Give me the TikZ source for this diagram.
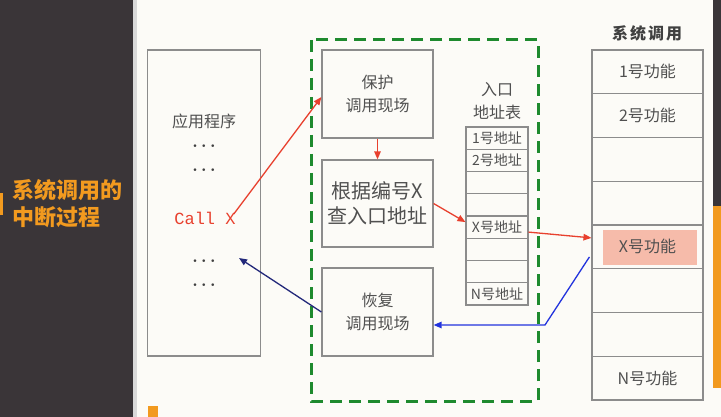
\documentclass[tikz,border=0pt]{standalone}
\usepackage{fontspec}
\newfontfamily\cjk{Noto Sans CJK SC}
\newfontfamily\mono{Liberation Mono}
\usetikzlibrary{arrows.meta}
\definecolor{bg}{HTML}{FCFBF7}
\definecolor{panel}{HTML}{3A3538}
\definecolor{orng}{HTML}{F29A1F}
\definecolor{boxline}{HTML}{8C8C8C}
\definecolor{txt}{HTML}{505050}
\definecolor{redarr}{HTML}{E8402E}
\definecolor{navy}{HTML}{22287A}
\definecolor{bluearr}{HTML}{2233DD}
\definecolor{dgreen}{HTML}{1E8A2E}
\definecolor{salmon}{HTML}{F6BBAA}
\begin{document}
\begin{tikzpicture}[x=1pt,y=-1pt,
  box/.style={draw=boxline,line width=1.2pt,inner sep=0pt,align=center,text=txt,font=\cjk\fontsize{16}{23}\selectfont},
  ecell/.style={draw=boxline,line width=1.1pt,inner sep=0pt,minimum width=62pt,minimum height=22.25pt,text=txt,font=\cjk\fontsize{14}{14}\selectfont},
  scell/.style={draw=boxline,line width=1.1pt,inner sep=0pt,minimum width=111pt,minimum height=43.75pt,text=txt,font=\cjk\fontsize{16}{16}\selectfont},
  lbl/.style={inner sep=0pt,text=txt,align=center,font=\cjk\fontsize{16}{23}\selectfont},
  dotsn/.style={inner sep=0pt,text=black!75,font=\fontsize{17}{17}\selectfont\boldmath},
  arr/.style={line width=1.3pt,-{Triangle[length=8pt,width=6.5pt]}}
]
\useasboundingbox (0,0) rectangle (721,417);
\fill[bg] (0,0) rectangle (721,417);
% left panel
\fill[panel] (0,0) rectangle (133,417);
\fill[black!15] (133,0) rectangle (137,417);
\fill[orng] (0,193) rectangle (3,215);
\node[inner sep=0pt,anchor=west,align=left,text=orng,font=\cjk\bfseries\fontsize{22}{27}\selectfont] (title) at (12,203.5) {系统调用的\\中断过程};
% right strip
\fill[panel] (713,0) rectangle (721,206);
\fill[orng] (713,206) rectangle (721,388);
% bottom orange mark
\fill[orng] (148,406) rectangle (158,417);

% application program
\node[box,minimum width=113pt,minimum height=306pt] (app) at (204,203) {};
\node[lbl] (appt) at (204,121) {应用程序};
\node[dotsn] (d1) at (204,146) {$\cdots$};
\node[dotsn] (d2) at (204,170) {$\cdots$};
\node[inner sep=0pt,text=redarr,font=\mono\fontsize{17}{17}\selectfont] (callx) at (205,218) {Call X};
\node[dotsn] (d3) at (204,261) {$\cdots$};
\node[dotsn] (d4) at (204,285) {$\cdots$};
\coordinate (ret) at (239,258);

% green dashed region
\draw[dgreen,line width=3pt,dash pattern=on 12pt off 7pt] (311,40) rectangle (538,401);

% kernel steps
\node[box,minimum width=111pt,minimum height=88pt] (bh) at (377.5,94) {保护\\调用现场};
\node[box,minimum width=111pt,minimum height=87pt,font=\cjk\fontsize{20}{25}\selectfont] (gj) at (377.5,203.5) {根据编号X\\查入口地址};
\node[box,minimum width=111pt,minimum height=88pt] (hf) at (377.5,312) {恢复\\调用现场};

% entry address table
\node[lbl] (et) at (497,101) {入口\\地址表};
\node[ecell] (e1) at (497,138.1) {1号地址};
\node[ecell] (e2) at (497,160.4) {2号地址};
\node[ecell] (e3) at (497,182.6) {};
\node[ecell] (e4) at (497,204.9) {};
\node[ecell] (e5) at (497,227.1) {X号地址};
\node[ecell] (e6) at (497,249.4) {};
\node[ecell] (e7) at (497,271.6) {};
\node[ecell] (e8) at (497,293.9) {N号地址};

% system call table
\node[inner sep=0pt,text=black!75,font=\cjk\bfseries\fontsize{16}{16}\selectfont] (st) at (647,33) {系\kern2pt 统\kern2pt 调\kern2pt 用};
\fill[salmon] (603,230) rectangle (697,265);
\node[scell] (s1) at (647.5,71.9) {1号功能};
\node[scell] (s2) at (647.5,115.6) {2号功能};
\node[scell] (s3) at (647.5,159.4) {};
\node[scell] (s4) at (647.5,203.1) {};
\node[scell] (s5) at (647.5,246.9) {X号功能};
\node[scell] (s6) at (647.5,290.6) {};
\node[scell] (s7) at (647.5,334.4) {};
\node[scell] (s8) at (647.5,378.1) {N号功能};

% connectors
\draw[arr,redarr] ([xshift=-2pt,yshift=4pt]callx.east) -- ([yshift=-3pt]bh.west);
\draw[arr,redarr] (bh.south) -- (gj.north);
\draw[arr,redarr] (gj.east) -- ([yshift=5pt]e5.west);
\draw[arr,redarr] ([yshift=-5pt]e5.east) -- ([yshift=9pt]s5.west);
\coordinate (bend) at (545,325);
\draw[arr,bluearr] ([xshift=-2pt,yshift=-10pt]s5.west) -- (bend) -- ([yshift=-13pt]hf.east);
\draw[arr,navy] (hf.west) -- (ret);
\end{tikzpicture}
\end{document}
